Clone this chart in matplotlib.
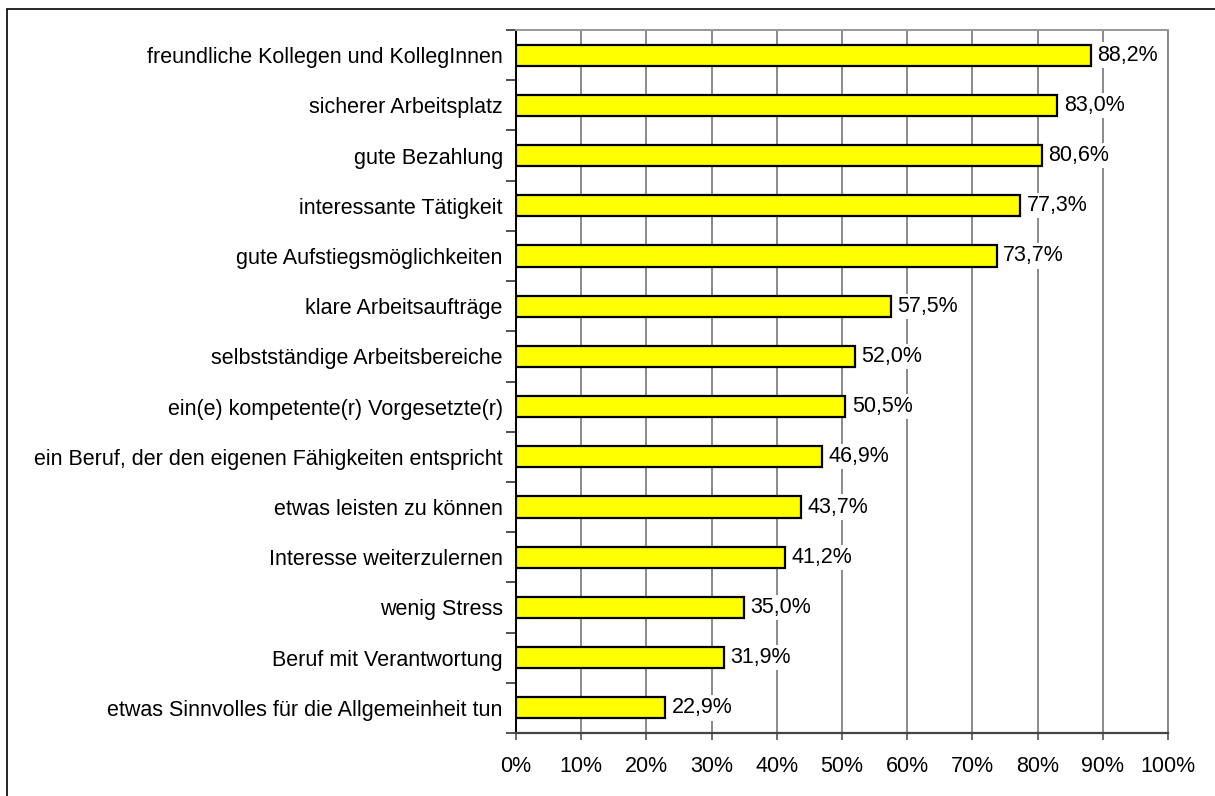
import matplotlib
matplotlib.use("Agg")
import matplotlib.pyplot as plt
from matplotlib.ticker import FixedLocator
from matplotlib.patches import Rectangle

categories = [
    "freundliche Kollegen und KollegInnen",
    "sicherer Arbeitsplatz",
    "gute Bezahlung",
    "interessante Tätigkeit",
    "gute Aufstiegsmöglichkeiten",
    "klare Arbeitsaufträge",
    "selbstständige Arbeitsbereiche",
    "ein(e) kompetente(r) Vorgesetzte(r)",
    "ein Beruf, der den eigenen Fähigkeiten entspricht",
    "etwas leisten zu können",
    "Interesse weiterzulernen",
    "wenig Stress",
    "Beruf mit Verantwortung",
    "etwas Sinnvolles für die Allgemeinheit tun",
]
values = [88.2, 83.0, 80.6, 77.3, 73.7, 57.5, 52.0, 50.5, 46.9, 43.7, 41.2, 35.0, 31.9, 22.9]
xticks = [0, 10, 20, 30, 40, 50, 60, 70, 80, 90, 100]
xticklabels = [f"{t}%" for t in xticks]

plt.rcParams['font.family'] = ['Liberation Sans', 'DejaVu Sans']
FS = 15.5

fig = plt.figure(figsize=(12.15, 7.96), dpi=100)
ax = fig.add_axes([516/1215, 1-733/796, (1168-516)/1215, (733-30)/796])

n = len(categories)
ypos = list(range(n))
ax.barh(ypos, values, height=0.42, color='#FFFF00', edgecolor='black', linewidth=1.6, zorder=3)
ax.set_ylim(n - 0.5, -0.5)
ax.set_xlim(0, 100)

for y, v in zip(ypos, values):
    ax.text(v + 1.0, y, f"{v:.1f}%".replace('.', ','), va='center', ha='left', fontsize=FS,
            color='black', zorder=4,
            bbox=dict(facecolor='white', edgecolor='none', pad=1.5))

ax.set_xticks(xticks)
ax.set_xticklabels(xticklabels, fontsize=FS)
ax.set_yticks(ypos)
ax.set_yticklabels(categories, fontsize=FS)
ax.yaxis.set_minor_locator(FixedLocator([i - 0.5 for i in range(n + 1)]))
ax.tick_params(axis='y', which='major', length=0, pad=9.5)
ax.tick_params(axis='y', which='minor', length=7, width=1.2, color='#333333')
ax.tick_params(axis='x', which='major', length=5, width=1.2, color='#555555', pad=11.5)

ax.grid(axis='x', color='#777777', linewidth=1.2, zorder=0)
ax.set_axisbelow(True)

ax.spines['left'].set_color('black')
ax.spines['left'].set_linewidth(1.4)
ax.spines['bottom'].set_color('#444444')
ax.spines['bottom'].set_linewidth(1.6)
ax.spines['top'].set_color('#999999')
ax.spines['top'].set_linewidth(1.4)
ax.spines['right'].set_color('#888888')
ax.spines['right'].set_linewidth(1.4)

fig.patches.append(Rectangle((7/1215, -0.05), 1.2, 1 - 9/796 + 0.05, transform=fig.transFigure,
                             fill=False, edgecolor='black', linewidth=1.2))

fig.savefig("out.png", dpi=100)
